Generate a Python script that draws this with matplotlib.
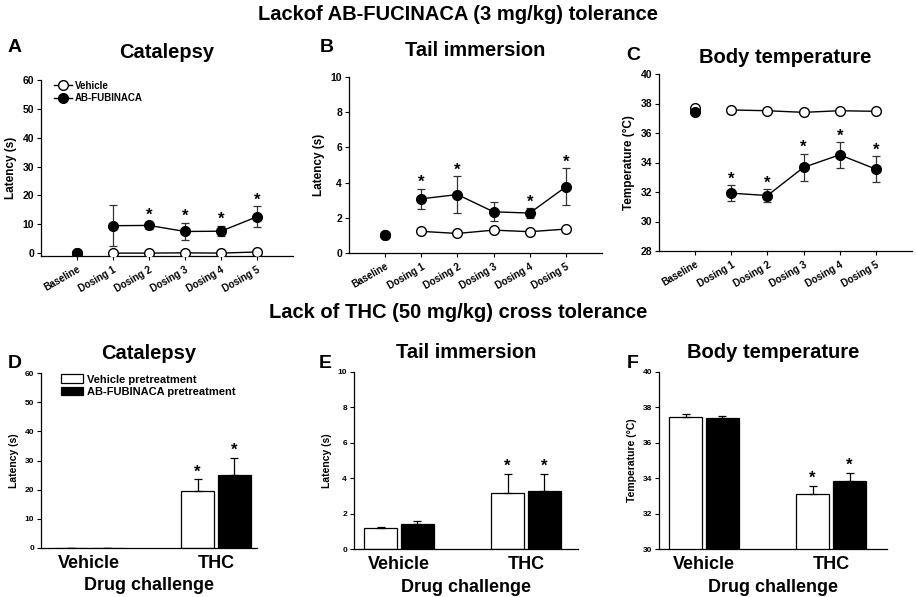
import matplotlib
matplotlib.use("Agg")
import matplotlib.pyplot as plt
from matplotlib.lines import Line2D
import numpy as np

plt.rcParams['font.family'] = ['Liberation Sans', 'DejaVu Sans']
plt.rcParams['font.weight'] = 'bold'

# ---------------- data ----------------
days = ["Baseline", "Dosing 1", "Dosing 2", "Dosing 3", "Dosing 4", "Dosing 5"]

cat_veh = [0.0, 0.0, 0.0, 0.1, 0.0, 0.4]
cat_ab = [0.0, 9.5, 9.6, 7.5, 7.6, 12.6]
cat_ab_err = [0.0, 7.2, 1.3, 3.0, 1.8, 3.6]
cat_stars = [False, False, True, True, True, True]

tail_veh = [1.0, 1.23, 1.11, 1.30, 1.21, 1.36]
tail_ab = [1.0, 3.08, 3.32, 2.34, 2.27, 3.76]
tail_ab_err = [0.0, 0.58, 1.05, 0.53, 0.27, 1.05]
tail_stars = [False, True, True, False, True, True]

temp_veh = [37.67, 37.56, 37.51, 37.40, 37.51, 37.47]
temp_ab = [37.44, 31.92, 31.76, 33.67, 34.52, 33.55]
temp_ab_err = [0.0, 0.55, 0.42, 0.93, 0.88, 0.90]
temp_stars = [False, True, True, True, True, True]

challenge = ["Vehicle", "THC"]
d_veh = [0.0, 19.4]
d_veh_err = [0.0, 4.2]
d_ab = [0.0, 25.0]
d_ab_err = [0.0, 6.0]
d_stars = [False, True]

e_veh = [1.16, 3.19]
e_veh_err = [0.06, 1.05]
e_ab = [1.43, 3.25]
e_ab_err = [0.18, 1.0]
e_stars = [False, True]

f_veh = [37.47, 33.10]
f_veh_err = [0.18, 0.47]
f_ab = [37.40, 33.85]
f_ab_err = [0.12, 0.43]
f_stars = [False, True]

# ---------------- figure ----------------
W, H = 916, 597
fig = plt.figure(figsize=(W / 100, H / 100), dpi=100)


def ax_px(left, right, top, bottom):
    return fig.add_axes([left / W, 1 - bottom / H, (right - left) / W, (bottom - top) / H])


def style(ax, ytick_size):
    for s in ['top', 'right']:
        ax.spines[s].set_visible(False)
    for s in ['left', 'bottom']:
        ax.spines[s].set_linewidth(0.9)
    ax.tick_params(axis='y', direction='out', length=3, width=0.8, labelsize=ytick_size, pad=2)
    for lab in ax.get_yticklabels():
        lab.set_fontweight('bold')


def line_panel(ax, veh, ab, err, stars, ylim, yticks, ylabel, title, star_off, tpad):
    x = np.arange(len(days))
    ax.plot(x[1:], veh[1:], color='black', lw=1.0, zorder=2)
    ax.plot(x[1:], ab[1:], color='black', lw=1.0, zorder=2)
    ax.errorbar(x[1:], ab[1:], yerr=err[1:], fmt='none', ecolor='#333333',
                elinewidth=0.9, capsize=3, capthick=0.9, zorder=1)
    ax.plot(x, veh, 'o', mfc='white', mec='black', mew=1.0, ms=7, zorder=3)
    ax.plot(x, ab, 'o', mfc='black', mec='black', ms=7, zorder=4)
    for i in range(len(days)):
        if stars[i]:
            ax.text(x[i], ab[i] + err[i] + star_off, '*', ha='center', va='center',
                    fontsize=12, fontweight='bold')
    ax.set_xlim(-1, 6)
    ax.set_ylim(*ylim)
    ax.set_yticks(yticks)
    ax.set_xticks(x)
    ax.set_xticklabels(days, rotation=30, ha='right', rotation_mode='anchor',
                       fontsize=7, fontweight='bold')
    ax.tick_params(axis='x', direction='out', length=3, width=0.8, pad=3)
    ax.set_ylabel(ylabel, fontsize=8.5, fontweight='bold', labelpad=4)
    style(ax, 7.5)
    ax.set_title(title, fontsize=14.5, fontweight='bold', pad=tpad)


def bar_panel(ax, veh, veh_err, ab, ab_err, stars, ylim, yticks, ylabel, title, xlim, star_off):
    x = np.arange(len(challenge))
    off, w = 0.145, 0.265
    ax.bar(x - off, veh, w, color='white', edgecolor='black', linewidth=0.9,
           yerr=[np.zeros(len(veh)), veh_err],
           error_kw=dict(elinewidth=0.9, capsize=3, capthick=0.9),
           label='Vehicle pretreatment', zorder=2)
    ax.bar(x + off, ab, w, color='black', edgecolor='black', linewidth=0.9,
           yerr=[np.zeros(len(ab)), ab_err],
           error_kw=dict(elinewidth=0.9, capsize=3, capthick=0.9, ecolor='black'),
           label='AB-FUBINACA pretreatment', zorder=2)
    for i in range(len(challenge)):
        if stars[i]:
            ax.text(x[i] - off, veh[i] + veh_err[i] + star_off, '*', ha='center', va='center',
                    fontsize=12, fontweight='bold')
            ax.text(x[i] + off, ab[i] + ab_err[i] + star_off, '*', ha='center', va='center',
                    fontsize=12, fontweight='bold')
    ax.set_xlim(*xlim)
    ax.set_ylim(*ylim)
    ax.set_yticks(yticks)
    ax.set_xticks(x)
    ax.set_xticklabels(challenge, fontsize=13, fontweight='bold')
    ax.tick_params(axis='x', length=0, pad=5)
    ax.set_xlabel('Drug challenge', fontsize=13, fontweight='bold', labelpad=4)
    ax.set_ylabel(ylabel, fontsize=7.5, fontweight='bold', labelpad=4)
    style(ax, 6)
    ax.set_title(title, fontsize=14.5, fontweight='bold', pad=10)


# top row
axA = ax_px(41, 293, 80, 256)
line_panel(axA, cat_veh, cat_ab, cat_ab_err, cat_stars, (-1, 60), range(0, 61, 10),
           'Latency (s)', 'Catalepsy', 2.2, 16)
h1 = Line2D([], [], color='black', lw=1.0, marker='o', mfc='white', mec='black', ms=7)
h2 = Line2D([], [], color='black', lw=1.0, marker='o', mfc='black', mec='black', ms=7)
axA.legend([h1, h2], ['Vehicle', 'AB-FUBINACA'], loc='upper left', frameon=False,
           handlelength=1.8, bbox_to_anchor=(0.03, 1.03), borderaxespad=0.2,
           labelspacing=0.3, handletextpad=0.3, prop={'weight': 'bold', 'size': 7})

axB = ax_px(349, 602, 77, 253)
line_panel(axB, tail_veh, tail_ab, tail_ab_err, tail_stars, (0, 10), range(0, 11, 2),
           'Latency (s)', 'Tail immersion', 0.35, 15)

axC = ax_px(659, 912, 74, 251)
line_panel(axC, temp_veh, temp_ab, temp_ab_err, temp_stars, (28, 40), range(28, 41, 2),
           'Temperature (°C)', 'Body temperature', 0.4, 8)

# bottom row
axD = ax_px(41, 257, 373, 548)
bar_panel(axD, d_veh, d_veh_err, d_ab, d_ab_err, d_stars, (0, 60), range(0, 61, 10),
          'Latency (s)', 'Catalepsy', (-0.378, 1.323), 2.5)
axD.legend(loc='upper left', frameon=False, bbox_to_anchor=(0.06, 1.03), borderaxespad=0.2,
           handlelength=2.0, handleheight=0.8, labelspacing=0.2, handletextpad=0.4,
           prop={'weight': 'bold', 'size': 8})

axE = ax_px(354, 578, 372, 549)
bar_panel(axE, e_veh, e_veh_err, e_ab, e_ab_err, e_stars, (0, 10), range(0, 11, 2),
          'Latency (s)', 'Tail immersion', (-0.354, 1.41), 0.45)

axF = ax_px(659, 887, 372, 549)
bar_panel(axF, f_veh, f_veh_err, f_ab, f_ab_err, f_stars, (30, 40), range(30, 41, 2),
          'Temperature (°C)', 'Body temperature', (-0.354, 1.44), 0.45)

# suptitles & panel letters
fig.text(458 / W, 1 - 14 / H, 'Lackof AB-FUCINACA (3 mg/kg) tolerance', ha='center', va='center',
         fontsize=14.5, fontweight='bold')
fig.text(458 / W, 1 - 313 / H, 'Lack of THC (50 mg/kg) cross tolerance', ha='center', va='center',
         fontsize=14.5, fontweight='bold')
for letter, (px, py) in {'A': (15, 47), 'B': (327, 48), 'C': (633, 56),
                         'D': (15, 363), 'E': (325, 364), 'F': (633, 364)}.items():
    fig.text(px / W, 1 - py / H, letter, ha='center', va='center', fontsize=14, fontweight='bold')

fig.savefig('out.png', dpi=100)
